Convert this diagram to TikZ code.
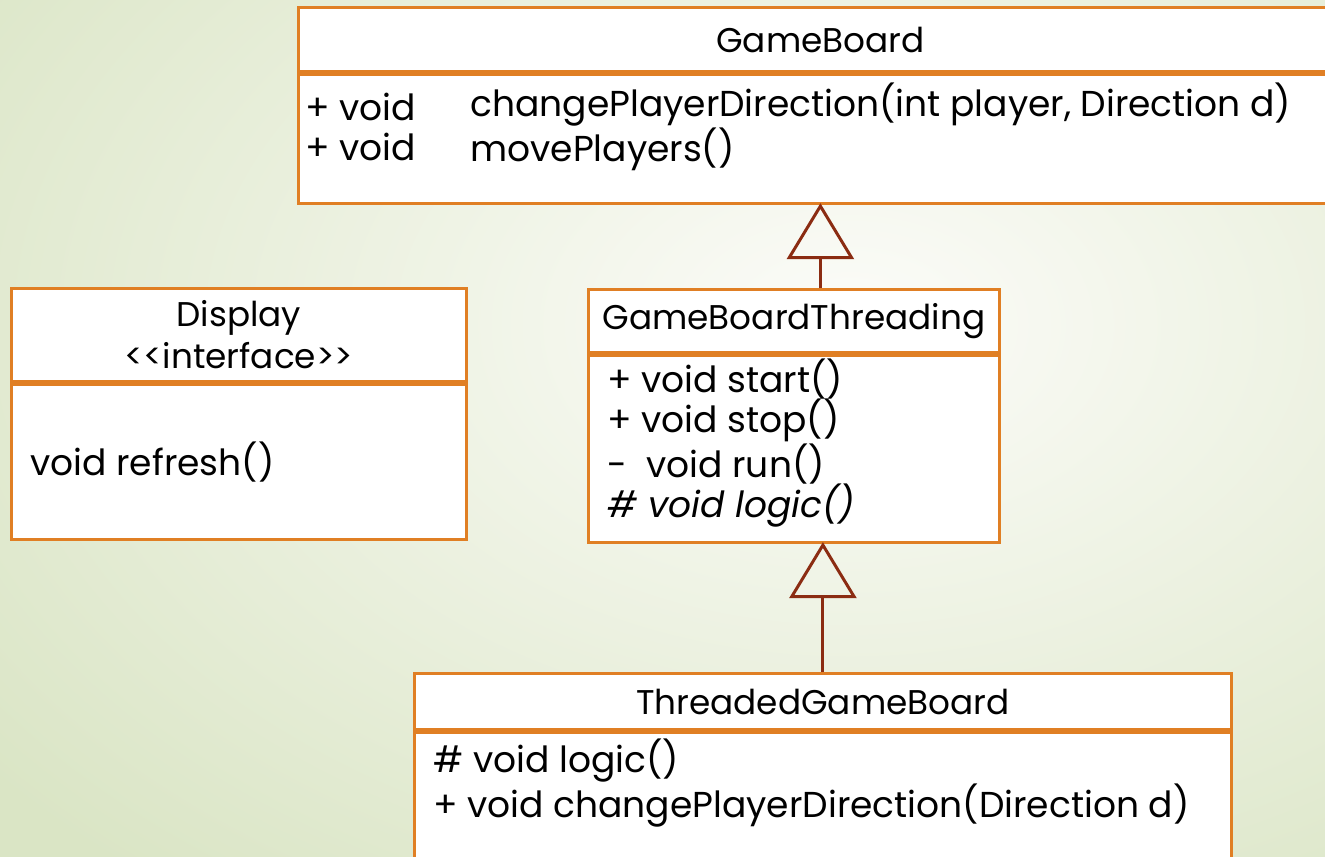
\documentclass[tikz,border=0pt]{standalone}
\usepackage{fontspec}
\setmainfont{Poppins}
\usetikzlibrary{positioning, arrows.meta}
\definecolor{bgedge}{RGB}{218,229,197}
\definecolor{bgcentre}{RGB}{252,252,249}
\definecolor{boxborder}{RGB}{224,127,36}
\definecolor{inheritcolor}{RGB}{139,44,18}

\begin{document}
\begin{tikzpicture}[
    x=0.02cm,
    y=-0.02cm,
    font=\fontsize{20.5}{23}\selectfont,
    classpart/.style={
        rectangle,
        draw=boxborder,
        line width=1.7pt,
        fill=white,
        inner sep=0pt,
        anchor=north west
    },
    classtitle/.style={font=\fontsize{19.5}{24}\selectfont},
    member/.style={anchor=west, inner sep=0pt, align=left},
    inherit/.style={-{Triangle[open, length=1.12cm, width=1.34cm]}, line width=1.7pt, color=inheritcolor, shorten >=-1pt}
]

%% PAGE %%
\useasboundingbox (0,0) rectangle (1325,856);
\clip (0,0) rectangle (1325,856);
\shade [inner color=bgcentre, outer color=bgedge] (-250,-400) rectangle (1950,1050);

%% GAMEBOARD %%
\node (gbhead) [classpart, classtitle, minimum width=20.88cm, minimum height=1.28cm] at (297,6) {GameBoard};
\node (gbbody) [classpart, minimum width=20.88cm, minimum height=2.58cm, below=0pt of gbhead] {};
\node (gbvis) [member] at (305,127) {+ void\\+ void};
\node (gbops) [member] at (470,127) {changePlayerDirection(int player, Direction d)\\movePlayers()};

%% DISPLAY INTERFACE %%
\node (dhead) [classpart, classtitle, minimum width=9.1cm, minimum height=1.86cm, align=center] at (10,287) {Display\\<{}<interface>{}>};
\node (dbody) [classpart, minimum width=9.1cm, minimum height=3.1cm, below=0pt of dhead] {};
\node (dops) [member] at (30,462) {void refresh()};

%% GAMEBOARDTHREADING %%
\node (gbthead) [classpart, classtitle, minimum width=8.22cm, minimum height=1.26cm] at (587,288) {GameBoardThreading};
\node (gbtbody) [classpart, minimum width=8.22cm, minimum height=3.74cm, below=0pt of gbthead] {};
\node (gbtops) [member] at (607,443) {+ void start()\\+ void stop()\\-\ \ void run()\\\textit{\# void logic()}};

%% THREADEDGAMEBOARD %%
\node (tgbhead) [classpart, classtitle, minimum width=16.34cm, minimum height=1.12cm] at (413,672) {ThreadedGameBoard};
\node (tgbbody) [classpart, minimum width=16.34cm, minimum height=3.2cm, below=0pt of tgbhead] {};
\node (tgbops) [member] at (433,783) {\# void logic()\\+ void changePlayerDirection(Direction d)};

%% INHERITANCE %%
\draw [inherit] (gbthead.north -| gbhead.south) -- (gbbody.south);
\draw [inherit] (tgbhead.north) -- (tgbhead.north |- gbtbody.south);

\end{tikzpicture}
\end{document}
